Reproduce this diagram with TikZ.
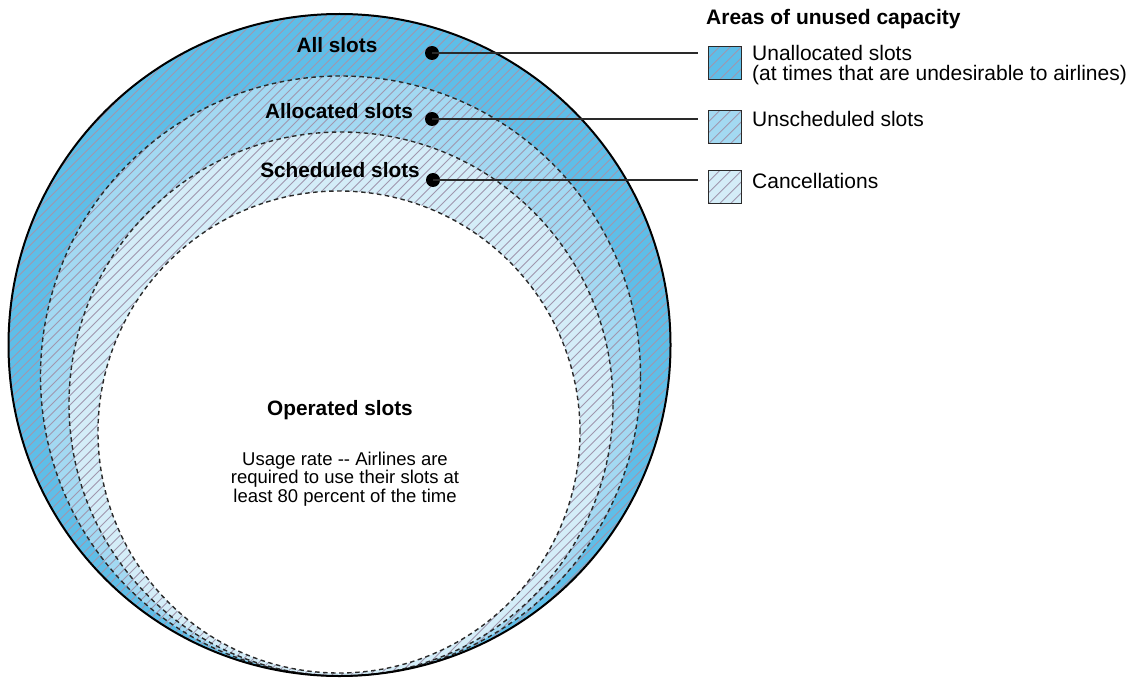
\documentclass[tikz,border=0pt]{standalone}
\usepackage{fontspec}
\setmainfont{Liberation Sans}
\definecolor{ringA}{HTML}{5EBEE8}
\definecolor{ringB}{HTML}{A3D9F2}
\definecolor{ringC}{HTML}{D4EDF8}
\definecolor{hatchc}{HTML}{A097AE}
\definecolor{inkc}{HTML}{2A2A2A}
\begin{document}
\begin{tikzpicture}[x=1pt,y=-1pt,
  lbl/.style={font=\fontsize{20.8}{24}\selectfont\bfseries, inner sep=0pt, anchor=base},
  legtxt/.style={font=\fontsize{21}{24}\selectfont, inner sep=0pt, anchor=base west},
  bodytxt/.style={font=\fontsize{18.5}{16.6}\selectfont, inner sep=0pt, align=center},
  dotmark/.style={circle, fill=black, inner sep=0pt, minimum size=14pt},
  leader/.style={draw=inkc, line width=1.3pt},
  dashcirc/.style={draw=inkc, line width=1.4pt, dash pattern=on 4.5pt off 3.5pt},
  hatchline/.style={draw=hatchc, line width=0.85pt},
  legbox/.style={draw=inkc, line width=1.3pt, minimum size=33pt, inner sep=0pt, anchor=north west,
    path picture={\foreach \k in {-33,-22,...,33}
      \draw[hatchline] ([xshift=\k pt]path picture bounding box.south west) -- ++(40pt,40pt);}},
]
\useasboundingbox (0,0) rectangle (1131,679);
\fill[white] (0,0) rectangle (1131,679);

% rings
\fill[ringA] (339.5,345) circle[radius=331pt];
\fill[ringB] (340.5,376) circle[radius=300pt];
\fill[ringC] (341,404) circle[radius=272pt];
\begin{scope}
  \clip (339.5,345) circle[radius=331pt];
  \foreach \k in {-690,-680.5,...,680}
    \draw[hatchline] (\k,690) -- ++(700,-700);
\end{scope}
\fill[white] (339,432) circle[radius=241pt];
\draw[dashcirc] (340.5,376) circle[radius=300pt];
\draw[dashcirc] (341,404) circle[radius=272pt];
\draw[dashcirc] (339,432) circle[radius=241pt];
\draw[black, line width=2pt] (339.5,345) circle[radius=331pt];

% circle labels
\node[lbl] (all) at (337,53) {All slots};
\node[lbl] (alloc) at (339,119) {Allocated slots};
\node[lbl] (sched) at (340,178) {Scheduled slots};
\node[lbl] (oper) at (340,415) {Operated slots};
\node[bodytxt] (usage) at (345,479) {Usage rate -{}- Airlines are\\required to use their slots at\\least 80 percent of the time};

% dots
\node[dotmark] (d1) at (432,53) {};
\node[dotmark] (d2) at (432,119) {};
\node[dotmark] (d3) at (433,180) {};

% legend
\node[font=\fontsize{21}{24}\selectfont\bfseries, inner sep=0pt, anchor=base west] (title) at (706,25) {Areas of unused capacity};
\node[legbox, fill=ringA] (b1) at (708,46) {};
\node[legbox, fill=ringB] (b2) at (708,110) {};
\node[legbox, fill=ringC] (b3) at (708,170) {};
\node[legtxt] (t1a) at (752,61) {Unallocated slots};
\node[legtxt] (t1b) at (752,81) {(at times that are undesirable to airlines)};
\node[legtxt] (t2) at (752,127) {Unscheduled slots};
\node[legtxt] (t3) at (752,188) {Cancellations};

\coordinate (e1) at (698,53);
\coordinate (e2) at (698,119);
\coordinate (e3) at (698,180);
\draw[leader] (d1.center) -- (e1);
\draw[leader] (d2.center) -- (e2);
\draw[leader] (d3.center) -- (e3);
\end{tikzpicture}
\end{document}
